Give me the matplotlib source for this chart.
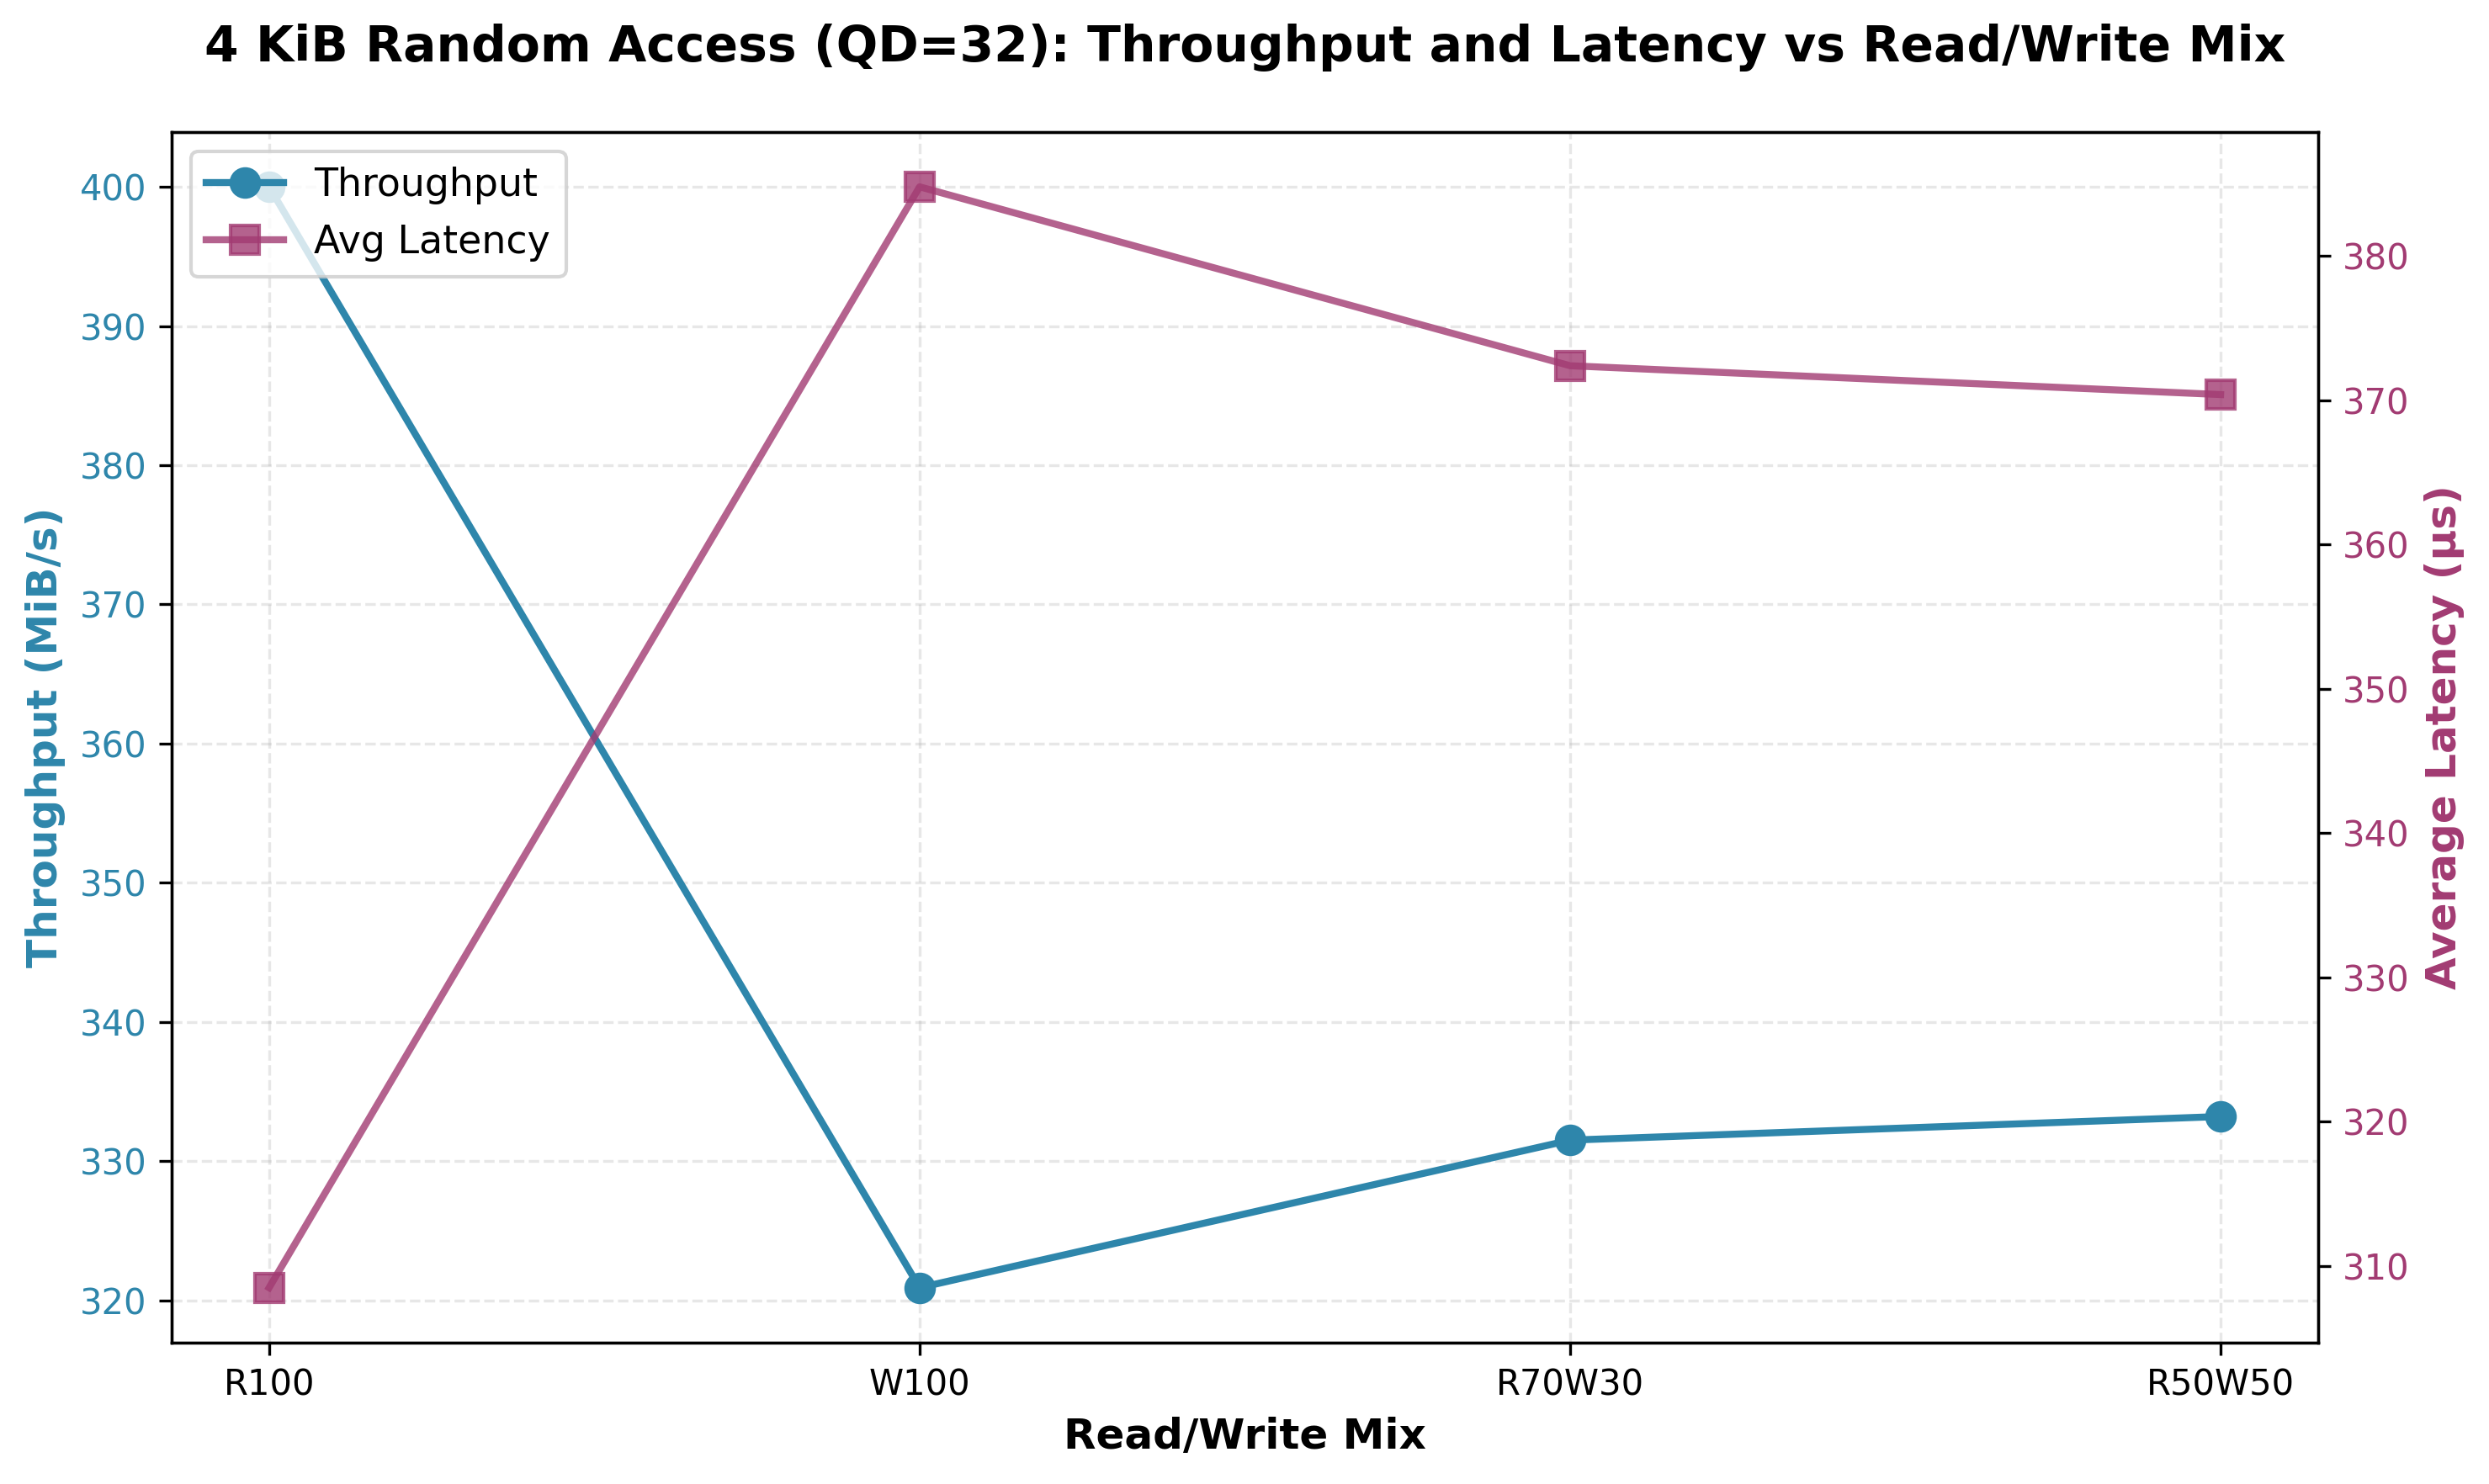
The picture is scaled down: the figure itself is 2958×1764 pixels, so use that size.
import matplotlib
matplotlib.use("Agg")
import matplotlib.pyplot as plt

mixes = ["R100", "W100", "R70W30", "R50W50"]
throughput = [400.0, 320.9, 331.5, 333.2]
latency = [308.5, 384.8, 372.4, 370.4]

c1 = "#2E86AB"
c2 = "#A23B72"

fig, ax1 = plt.subplots(figsize=(9.863, 5.88), dpi=300)
fig.subplots_adjust(left=0.0689, right=0.9311, top=0.9112, bottom=0.0952)
l1, = ax1.plot(mixes, throughput, marker="o", color=c1, linewidth=2, markersize=8, label="Throughput")
ax1.set_xlabel("Read/Write Mix", fontsize=12, fontweight="bold")
ax1.set_ylabel("Throughput (MiB/s)", fontsize=12, fontweight="bold", color=c1)
ax1.tick_params(axis="y", labelcolor=c1)
ax1.grid(True, linestyle="--", alpha=0.3)

ax2 = ax1.twinx()
l2, = ax2.plot(mixes, latency, marker="s", color=c2, linewidth=2, markersize=8, alpha=0.8, label="Avg Latency")
ax2.set_ylabel("Average Latency (µs)", fontsize=12, fontweight="bold", color=c2)
ax2.tick_params(axis="y", labelcolor=c2)

ax1.legend(handles=[l1, l2], loc="upper left", fontsize=11)
ax1.set_title("4 KiB Random Access (QD=32): Throughput and Latency vs Read/Write Mix",
              fontsize=14, fontweight="bold", pad=20)
fig.savefig("out.png", dpi=300)
